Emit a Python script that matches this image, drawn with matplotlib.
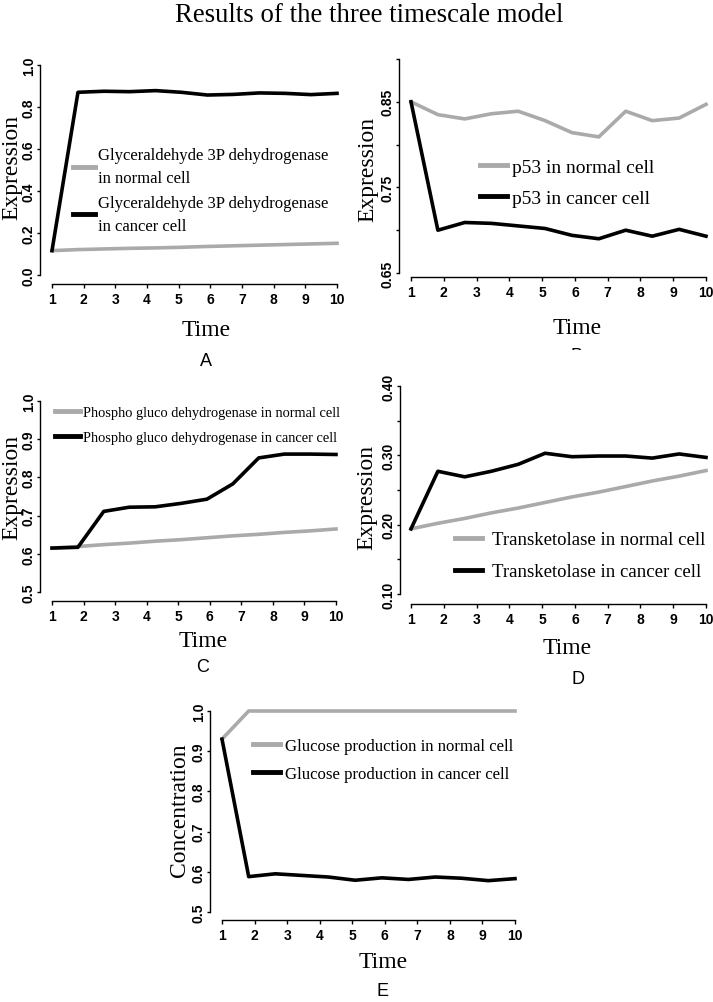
import numpy as np
import matplotlib
matplotlib.use("Agg")
import matplotlib.pyplot as plt
from matplotlib.transforms import Bbox

W, H = 713, 1003

# time points (12 samples between 1 and 10)
time = [1.0, 1.82, 2.64, 3.45, 4.27, 5.09, 5.91, 6.73, 7.55, 8.36, 9.18, 10.0]
xticks = [1, 2, 3, 4, 5, 6, 7, 8, 9, 10]

# A: glyceraldehyde 3P dehydrogenase
gapdh_normal = [0.116, 0.121, 0.124, 0.127, 0.129, 0.132, 0.136, 0.139, 0.142, 0.145, 0.148, 0.151]
gapdh_cancer = [0.116, 0.870, 0.875, 0.873, 0.878, 0.870, 0.857, 0.860, 0.867, 0.865, 0.859, 0.865]

# B: p53
p53_normal = [0.850, 0.835, 0.830, 0.836, 0.839, 0.828, 0.814, 0.809, 0.839, 0.828, 0.831, 0.847]
p53_cancer = [0.850, 0.700, 0.709, 0.708, 0.705, 0.702, 0.694, 0.690, 0.700, 0.693, 0.701, 0.693]

# C: phospho gluco dehydrogenase
pgd_normal = [0.615, 0.619, 0.624, 0.628, 0.633, 0.637, 0.642, 0.647, 0.651, 0.656, 0.660, 0.665]
pgd_cancer = [0.615, 0.617, 0.711, 0.722, 0.723, 0.732, 0.743, 0.783, 0.851, 0.861, 0.861, 0.860]

# D: transketolase
tkt_normal = [0.194, 0.202, 0.209, 0.217, 0.224, 0.232, 0.240, 0.247, 0.255, 0.263, 0.270, 0.278]
tkt_cancer = [0.194, 0.277, 0.269, 0.277, 0.287, 0.303, 0.298, 0.299, 0.299, 0.296, 0.302, 0.297]

# E: glucose production
glc_normal = [0.930, 1.0, 1.0, 1.0, 1.0, 1.0, 1.0, 1.0, 1.0, 1.0, 1.0, 1.0]
glc_cancer = [0.930, 0.588, 0.595, 0.591, 0.587, 0.579, 0.585, 0.581, 0.587, 0.584, 0.578, 0.583]

GRAY = "#aaaaaa"
SERIF = ["Liberation Serif", "DejaVu Serif"]
NARROW = ["Liberation Sans Narrow", "Liberation Sans", "DejaVu Sans"]
SANS = ["Liberation Sans", "DejaVu Sans"]

fig = plt.figure(figsize=(W / 100, H / 100), dpi=100)


def panel(x1, x10, ylo_px, yhi_px, yaxis_x, xaxis_y, ylim, yticks, ylabels):
    ax = fig.add_axes([x1 / W, 1 - ylo_px / H, (x10 - x1) / W, (ylo_px - yhi_px) / H])
    ax.set_xlim(1, 10)
    ax.set_ylim(*ylim)
    ax.patch.set_alpha(0)
    for s in ["top", "right"]:
        ax.spines[s].set_visible(False)
    ax.spines["left"].set_position(("outward", (x1 - yaxis_x) * 0.72))
    ax.spines["bottom"].set_position(("outward", (xaxis_y - ylo_px) * 0.72))
    ax.spines["left"].set_bounds(yticks[0], yticks[-1])
    ax.spines["bottom"].set_bounds(1, 10)
    for s in ["left", "bottom"]:
        ax.spines[s].set_linewidth(1.0)
    ax.set_xticks(xticks)
    ax.set_yticks(yticks)
    ax.set_yticklabels(ylabels)
    ax.tick_params(axis="x", length=3, width=1.0, pad=3)
    ax.tick_params(axis="y", length=2, width=1.0, pad=1, labelrotation=90)
    for t in ax.get_xticklabels() + ax.get_yticklabels():
        t.set_family(NARROW)
        t.set_fontweight("bold")
        t.set_fontsize(10)
    for t in ax.get_yticklabels():
        t.set_va("center")
    return ax


def draw(ax, normal, cancer):
    ln1, = ax.plot(time, normal, color=GRAY, lw=2.6, clip_on=False, solid_joinstyle="round")
    ln2, = ax.plot(time, cancer, color="black", lw=2.6, clip_on=False, solid_joinstyle="round")
    return [ln1, ln2]


def legend(ax, lines, names, x, ytop, size, handle_px, pad_px, spacing, linesp=1.2):
    fpx = size * 100 / 72
    leg = ax.legend(lines, names, loc="upper left", bbox_to_anchor=(x / W, 1 - ytop / H),
                    bbox_transform=fig.transFigure, frameon=False, borderpad=0,
                    borderaxespad=0, handlelength=handle_px / fpx,
                    handletextpad=pad_px / fpx, labelspacing=spacing,
                    prop={"family": SERIF, "size": size})
    for t in leg.get_texts():
        t.set_linespacing(linesp)
    for h in leg.get_lines():
        h.set_linewidth(3.5)
    return leg


def texts(xl, yl, ylabel, xt, yt, xp, yp, letter, clip=None):
    fig.text(xl / W, 1 - yl / H, ylabel, rotation=90, ha="center", va="center",
             family=SERIF, size=17)
    fig.text(xt / W, 1 - yt / H, "Time", ha="center", va="center", family=SERIF, size=17)
    t = fig.text(xp / W, 1 - yp / H, letter, ha="center", va="center", family=SANS, size=13)
    if clip is not None:
        t.set_clip_box(Bbox.from_extents(0, H - clip, W, H))
        t.set_clip_on(True)


fig.text(369 / W, 1 - 16 / H, "Results of the three timescale model", ha="center", va="center",
         family=SERIF, size=19.3)

# A
axA = panel(52, 337, 276, 66, 40, 285, (0, 1), [0, 0.2, 0.4, 0.6, 0.8, 1.0],
            ["0.0", "0.2", "0.4", "0.6", "0.8", "1.0"])
lA = draw(axA, gapdh_normal, gapdh_cancer)
legend(axA, lA, ["Glyceraldehyde 3P dehydrogenase\nin normal cell",
                 "Glyceraldehyde 3P dehydrogenase\nin cancer cell"],
       73, 148, 12, 22, 3, 0.5, 1.6)
texts(12, 168, "Expression", 206, 330, 206, 362, "A")

# B
axB = panel(411, 706, 274, 60, 399, 278, (0.65, 0.90),
            [0.65, 0.70, 0.75, 0.80, 0.85, 0.90], ["0.65", "", "0.75", "", "0.85", ""])
lB = draw(axB, p53_normal, p53_cancer)
legend(axB, lB, ["p53 in normal cell", "p53 in cancer cell"], 480, 159, 14, 27, 5, 0.72)
texts(368, 169, "Expression", 577, 328, 577, 357, "B", clip=351)

# C
axC = panel(52, 336, 593, 402, 40, 602, (0.5, 1.0), [0.5, 0.6, 0.7, 0.8, 0.9, 1.0],
            ["0.5", "0.6", "0.7", "0.8", "0.9", "1.0"])
lC = draw(axC, pgd_normal, pgd_cancer)
legend(axC, lC, ["Phospho gluco dehydrogenase in normal cell",
                 "Phospho gluco dehydrogenase in cancer cell"], 55, 407, 10.4, 25, 3, 0.8)
texts(12, 488, "Expression", 203, 642, 203, 668, "C")

# D
axD = panel(411, 706, 595, 387, 400, 605, (0.10, 0.40),
            [0.10, 0.15, 0.20, 0.25, 0.30, 0.35, 0.40],
            ["0.10", "", "0.20", "", "0.30", "", "0.40"])
lD = draw(axD, tkt_normal, tkt_cancer)
legend(axD, lD, ["Transketolase in normal cell", "Transketolase in cancer cell"],
       455, 532, 13.5, 27, 10, 0.8)
texts(367, 497, "Expression", 567, 648, 578, 680, "D")

# E
axE = panel(222, 515, 913, 712, 210, 921, (0.5, 1.0), [0.5, 0.6, 0.7, 0.8, 0.9, 1.0],
            ["0.5", "0.6", "0.7", "0.8", "0.9", "1.0"])
lE = draw(axE, glc_normal, glc_cancer)
legend(axE, lE, ["Glucose production in normal cell", "Glucose production in cancer cell"],
       253, 739, 12.1, 27, 5, 0.7)
texts(179, 810, "Concentration", 383, 963, 383, 992, "E")

fig.savefig("out.png", dpi=100, facecolor="white")
